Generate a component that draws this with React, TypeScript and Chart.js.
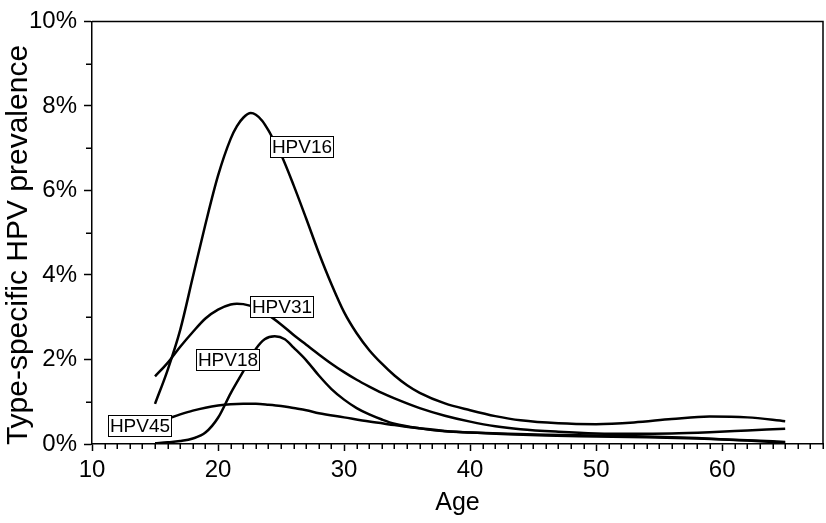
import React, { useEffect, useRef } from 'react';
import { Chart, registerables } from 'chart.js';

Chart.register(...registerables);

const FONT = '"Liberation Sans", Arial, Helvetica, sans-serif';

const xTickValues = [10, 20, 30, 40, 50, 60];
const yTickValues = [0, 2, 4, 6, 8, 10];

const hpv16Ages = [15, 16, 17, 18, 19, 20, 21, 21.5, 22, 22.6, 23, 23.5, 24, 24.5, 25, 26, 27, 28, 29, 30, 31, 32, 33, 34, 35, 36, 38, 40, 42, 44, 47, 50, 53, 56, 59, 62, 65];
const hpv16Values = [0.95, 1.75, 2.7, 3.95, 5.2, 6.35, 7.22, 7.52, 7.72, 7.83, 7.79, 7.65, 7.42, 7.14, 6.85, 6.12, 5.33, 4.52, 3.78, 3.12, 2.62, 2.22, 1.9, 1.62, 1.39, 1.21, 0.96, 0.8, 0.66, 0.56, 0.49, 0.47, 0.51, 0.59, 0.65, 0.63, 0.54];

const hpv31Ages = [15, 16, 17, 18, 19, 20, 21, 21.5, 22, 23, 24, 25, 26, 27, 28, 29, 30, 31, 32, 33, 34, 36, 38, 40, 42, 44, 47, 50, 53, 56, 59, 62, 65];
const hpv31Values = [1.6, 1.92, 2.3, 2.65, 2.97, 3.18, 3.3, 3.32, 3.31, 3.22, 3.05, 2.83, 2.58, 2.35, 2.12, 1.9, 1.7, 1.52, 1.36, 1.21, 1.08, 0.85, 0.67, 0.53, 0.42, 0.35, 0.29, 0.25, 0.24, 0.25, 0.28, 0.32, 0.36];

const hpv18Ages = [15, 16, 17, 18, 19, 20, 21, 22, 23, 23.7, 24.5, 25.3, 26, 27, 28, 29, 30, 31, 32, 33, 34, 36, 38, 40, 43, 46, 50, 54, 58, 62, 65];
const hpv18Values = [0.02, 0.04, 0.07, 0.13, 0.27, 0.62, 1.2, 1.72, 2.25, 2.48, 2.55, 2.48, 2.28, 1.98, 1.62, 1.3, 1.05, 0.85, 0.7, 0.58, 0.48, 0.37, 0.3, 0.27, 0.24, 0.22, 0.2, 0.18, 0.14, 0.08, 0.03];

const hpv45Ages = [15, 16, 17, 18, 19, 20, 21, 22, 23, 24, 25, 26, 27, 28, 30, 32, 34, 36, 38, 40, 43, 46, 50, 54, 58, 62, 65];
const hpv45Values = [0.5, 0.6, 0.7, 0.79, 0.86, 0.91, 0.94, 0.95, 0.95, 0.93, 0.9, 0.85, 0.8, 0.73, 0.63, 0.53, 0.45, 0.37, 0.31, 0.27, 0.23, 0.2, 0.18, 0.16, 0.13, 0.09, 0.05];

const seriesNames = ['HPV16', 'HPV31', 'HPV18', 'HPV45'];
const labelAges = [26.6, 25.0, 20.75, 13.8];
const labelValues = [7.04, 3.25, 2.0, 0.44];

const xTitle = 'Age';
const yTitle = 'Type-specific HPV prevalence';

function toPoints(ages: number[], vals: number[]) {
  return ages.map((a, i) => ({ x: a, y: vals[i] }));
}

export default function App() {
  const ref = useRef<HTMLCanvasElement>(null);

  useEffect(() => {
    const canvas = ref.current!;
    const decor = {
      id: 'decor',
      afterDatasetsDraw(chart: any) {
        const { ctx, scales } = chart;
        const xs = scales.x;
        const ys = scales.y;
        ctx.save();
        ctx.font = `19px ${FONT}`;
        ctx.textAlign = 'center';
        ctx.textBaseline = 'middle';
        seriesNames.forEach((name, i) => {
          const cx = xs.getPixelForValue(labelAges[i]);
          const cy = ys.getPixelForValue(labelValues[i]);
          const w = Math.round(ctx.measureText(name).width + 3);
          const h = 21;
          const lx = Math.round(cx - w / 2);
          const ty = Math.round(cy - h / 2);
          ctx.fillStyle = '#fff';
          ctx.fillRect(lx, ty, w, h);
          ctx.strokeStyle = '#000';
          ctx.lineWidth = 1;
          ctx.strokeRect(lx + 0.5, ty + 0.5, w, h);
          ctx.fillStyle = '#000';
          ctx.fillText(name, lx + w / 2 + 0.5, ty + h / 2 + 1.5);
        });
        ctx.restore();
      },
      afterDraw(chart: any) {
        const { ctx, chartArea: a, scales } = chart;
        const xs = scales.x;
        const ys = scales.y;
        ctx.save();
        ctx.strokeStyle = '#000';
        ctx.lineWidth = 1.5;
        ctx.beginPath();
        ctx.moveTo(a.left, a.top);
        ctx.lineTo(a.right, a.top);
        ctx.lineTo(a.right, a.bottom);
        ctx.stroke();
        // minor ticks
        ctx.beginPath();
        for (let v = Math.ceil(xs.min); v <= xs.max; v++) {
          if (xTickValues.includes(v)) continue;
          const px = Math.round(xs.getPixelForValue(v)) + 0.25;
          ctx.moveTo(px, a.bottom);
          ctx.lineTo(px, a.bottom + 5);
        }
        for (let v = Math.ceil(ys.min); v <= ys.max; v++) {
          if (yTickValues.includes(v)) continue;
          const py = Math.round(ys.getPixelForValue(v)) + 0.25;
          ctx.moveTo(a.left - 6, py);
          ctx.lineTo(a.left, py);
        }
        ctx.stroke();
        // y title
        ctx.fillStyle = '#000';
        ctx.font = `30px ${FONT}`;
        ctx.textAlign = 'center';
        ctx.textBaseline = 'middle';
        ctx.translate(19, 245);
        ctx.rotate(-Math.PI / 2);
        ctx.fillText(yTitle, 0, 0);
        ctx.restore();
      },
    };

    const mk = (ages: number[], vals: number[], label: string) => ({
      label,
      data: toPoints(ages, vals),
      borderColor: '#000',
      borderWidth: 2.5,
      pointRadius: 0,
      fill: false,
      cubicInterpolationMode: 'monotone' as const,
    });

    const chart = new Chart(canvas, {
      type: 'line',
      data: {
        datasets: [
          mk(hpv16Ages, hpv16Values, seriesNames[0]),
          mk(hpv31Ages, hpv31Values, seriesNames[1]),
          mk(hpv18Ages, hpv18Values, seriesNames[2]),
          mk(hpv45Ages, hpv45Values, seriesNames[3]),
        ],
      },
      options: {
        responsive: false,
        animation: false,
        layout: { padding: { top: 14, right: 3, left: 0, bottom: 0 } },
        plugins: { legend: { display: false }, tooltip: { enabled: false } },
        scales: {
          x: {
            type: 'linear',
            min: 10,
            max: 68,
            afterBuildTicks: (scale: any) => {
              scale.ticks = xTickValues.map((v) => ({ value: v }));
            },
            afterFit: (scale: any) => {
              scale.height = 79;
            },
            grid: { drawOnChartArea: false, drawTicks: true, tickLength: 7, tickColor: '#000', tickWidth: 1.5 },
            border: { display: true, color: '#000', width: 1.5 },
            ticks: {
              color: '#000',
              font: { family: FONT, size: 24 },
              padding: 5,
              maxRotation: 0,
              autoSkip: false,
              callback: (v: any) => String(v),
            },
            title: {
              display: true,
              text: xTitle,
              color: '#000',
              font: { family: FONT, size: 25 },
              padding: { top: 0, bottom: 5 },
            },
          },
          y: {
            type: 'linear',
            min: 0,
            max: 10,
            afterBuildTicks: (scale: any) => {
              scale.ticks = yTickValues.map((v) => ({ value: v }));
            },
            afterFit: (scale: any) => {
              scale.width = 92;
            },
            grid: { drawOnChartArea: false, drawTicks: true, tickLength: 8, tickColor: '#000', tickWidth: 1.5 },
            border: { display: true, color: '#000', width: 1.5 },
            ticks: {
              color: '#000',
              font: { family: FONT, size: 24 },
              padding: 7,
              autoSkip: false,
              callback: (v: any) => v + '%',
            },
          },
        },
      },
      plugins: [decor],
    });
    return () => chart.destroy();
  }, []);

  return (
    <div style={{ position: 'fixed', left: 0, top: 0, width: 826, height: 523, background: '#fff' }}>
      <canvas ref={ref} width={826} height={523} />
    </div>
  );
}
